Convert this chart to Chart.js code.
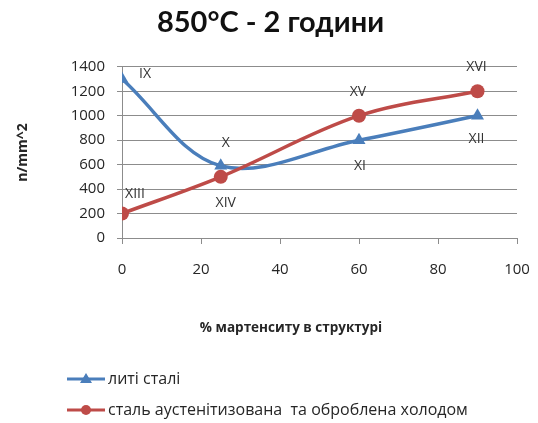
<!DOCTYPE html>
<html>
<head>
<meta charset="utf-8">
<script src="https://cdn.jsdelivr.net/npm/chart.js@4.4.1/dist/chart.umd.min.js"></script>
<style>
  html, body { margin: 0; padding: 0; background: #ffffff; }
  #wrap { width: 538px; height: 423px; position: relative; }
</style>
</head>
<body>
<div id="wrap"><canvas id="c" width="538" height="423"></canvas></div>
<script>
// Martensite content (%) at each sample
const martensite = [0, 25, 60, 90];
// Strength, n/mm^2
const castSteel = [1300, 590, 800, 1000];
const coldTreated = [200, 500, 1000, 1200];
// Sample numbers written beside the points
const castNames = ['IX', 'X', 'XI', 'XII'];
const coldNames = ['XIII', 'XIV', 'XV', 'XVI'];
// Axis ticks
const xTicks = [0, 20, 40, 60, 80, 100];
const yTicks = [0, 200, 400, 600, 800, 1000, 1200, 1400];
// Series names
const seriesNames = ['литі сталі', 'сталь аустенітизована  та оброблена холодом'];
const chartTitle = '850°C - 2 години';
const xTitle = '% мартенситу в структурі';
const yTitle = 'n/mm^2';

const BLUE = '#4A7EBB';
const RED = '#BE4B48';
const TEXT = '#262626';
const GRID = '#8c8c8c';
const BODY_FONT = '"Open Sans", "Liberation Sans", sans-serif';

// Where each sample name sits relative to its point (dx, dy)
const nameOffsets = [
  [[23, -5], [5, -23], [1, 26], [-1, 23]],
  [[13, -20], [5, 26], [-1, -24], [-1, -24]]
];

const pointNames = {
  id: 'pointNames',
  afterDatasetsDraw(chart) {
    const ctx = chart.ctx;
    ctx.save();
    ctx.font = '14px ' + BODY_FONT;
    ctx.fillStyle = '#333333';
    ctx.textAlign = 'center';
    ctx.textBaseline = 'middle';
    chart.data.datasets.forEach((ds, di) => {
      const meta = chart.getDatasetMeta(di);
      meta.data.forEach((pt, i) => {
        const off = nameOffsets[di][i];
        ctx.fillText(ds.names[i], pt.x + off[0], pt.y + off[1]);
      });
    });
    ctx.restore();
  }
};

// X axis title and the two-row legend below the plot
const extras = {
  id: 'extras',
  afterDraw(chart) {
    const ctx = chart.ctx;
    ctx.save();
    ctx.fillStyle = TEXT;
    ctx.textBaseline = 'middle';
    ctx.textAlign = 'center';
    ctx.font = 'bold 13.5px ' + BODY_FONT;
    ctx.fillText(xTitle, 291, 328);

    const rows = [379, 410];
    chart.data.datasets.forEach((ds, di) => {
      const y = rows[di];
      ctx.strokeStyle = ds.borderColor;
      ctx.lineWidth = 3;
      ctx.beginPath();
      ctx.moveTo(67, y);
      ctx.lineTo(105, y);
      ctx.stroke();
      ctx.fillStyle = ds.borderColor;
      ctx.beginPath();
      if (ds.pointStyle === 'triangle') {
        ctx.moveTo(86, y - 6);
        ctx.lineTo(92, y + 4);
        ctx.lineTo(80, y + 4);
        ctx.closePath();
      } else {
        ctx.arc(86, y, 5, 0, Math.PI * 2);
      }
      ctx.fill();
      ctx.fillStyle = TEXT;
      ctx.textAlign = 'left';
      ctx.font = '16px ' + BODY_FONT;
      ctx.fillText(ds.label, 108, y);
    });
    ctx.restore();
  }
};

const toPoints = (xs, ys) => xs.map((x, i) => ({ x: x, y: ys[i] }));
const plain = v => String(v);

new Chart(document.getElementById('c'), {
  type: 'line',
  data: {
    datasets: [
      {
        label: seriesNames[0],
        names: castNames,
        data: toPoints(martensite, castSteel),
        borderColor: BLUE,
        backgroundColor: BLUE,
        borderWidth: 3.5,
        pointStyle: 'triangle',
        pointRadius: 7.5,
        pointBorderWidth: 0,
        tension: 0.35,
        order: 1
      },
      {
        label: seriesNames[1],
        names: coldNames,
        data: toPoints(martensite, coldTreated),
        borderColor: RED,
        backgroundColor: RED,
        borderWidth: 3.5,
        pointStyle: 'circle',
        pointRadius: 7,
        pointBorderWidth: 0,
        tension: 0.35,
        order: 0
      }
    ]
  },
  options: {
    responsive: false,
    animation: false,
    devicePixelRatio: 1,
    layout: { padding: { left: 24, right: 21, top: 0, bottom: 125 } },
    plugins: {
      legend: { display: false },
      tooltip: { enabled: false },
      title: {
        display: true,
        text: chartTitle,
        color: '#111111',
        font: { family: 'Lato, "Open Sans", sans-serif', size: 29, weight: 'bold', lineHeight: 1.2 },
        padding: { top: 5, bottom: 27 }
      }
    },
    scales: {
      x: {
        type: 'linear',
        min: 0,
        max: 100,
        afterBuildTicks: s => { s.ticks = xTicks.map(v => ({ value: v })); },
        afterFit: s => { s.height = 60; s.paddingLeft = 0; s.paddingRight = 0; },
        grid: { drawOnChartArea: false, drawTicks: true, tickLength: 6, color: GRID },
        border: { color: GRID },
        ticks: { color: TEXT, font: { family: BODY_FONT, size: 15 }, padding: 17, callback: plain }
      },
      y: {
        min: 0,
        max: 1400,
        afterBuildTicks: s => { s.ticks = yTicks.map(v => ({ value: v })); },
        afterFit: s => { s.width = 98; },
        grid: { color: GRID, tickLength: 5 },
        border: { color: GRID },
        ticks: { color: TEXT, font: { family: BODY_FONT, size: 15 }, padding: 12, callback: plain },
        title: {
          display: true,
          text: yTitle,
          color: TEXT,
          font: { family: BODY_FONT, size: 14, weight: 'bold' },
          padding: { top: -9, bottom: 0 }
        }
      }
    }
  },
  plugins: [pointNames, extras]
});
</script>
</body>
</html>
